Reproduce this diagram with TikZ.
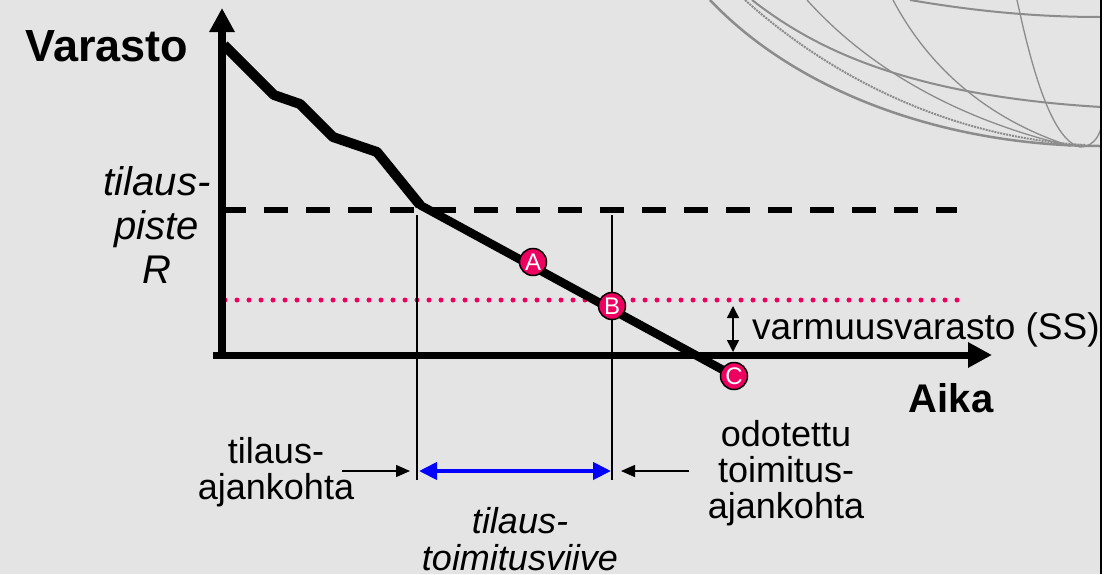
\documentclass[tikz,border=0pt]{standalone}
\usepackage{fontspec}
\setmainfont{Liberation Sans}
\usetikzlibrary{arrows.meta}
\definecolor{bg}{RGB}{228,228,228}
\definecolor{hot}{RGB}{238,0,96}
\definecolor{globec}{RGB}{140,140,140}
\begin{document}
\begin{tikzpicture}[x=1pt,y=-1pt,
  globeline/.style={draw=globec,line width=2pt},
  axisline/.style={line width=8pt,-{Triangle[length=24pt,width=24pt]}},
  curveline/.style={line width=10pt,line join=round},
  thinline/.style={line width=1.5pt},
  ptnode/.style={circle,fill=hot,draw=black,line width=1.5pt,minimum size=27pt,inner sep=0pt,text=white,font=\fontsize{24}{24}\selectfont},
  lbl/.style={inner sep=0pt,font=\fontsize{36}{36}\selectfont,align=center},
  ilbl/.style={inner sep=0pt,font=\fontsize{36}{37}\selectfont\itshape,align=center},
  smallarrow/.style={line width=1.5pt,-{Triangle[length=14pt,width=12pt]}},
  ssarrow/.style={line width=1.5pt,{Triangle[length=12pt,width=12pt]}-{Triangle[length=12pt,width=12pt]}},
  bluearrow/.style={draw=blue,line width=4pt,{Triangle[length=18pt,width=17pt]}-{Triangle[length=18pt,width=17pt]}}
]
\useasboundingbox (0,0) rectangle (1115,574);
\fill[bg] (0,0) rectangle (1101,574);
\fill[white] (1101,0) rectangle (1115,574);
% globe decoration
\draw[globeline,line width=2.5pt] (710,0) .. controls (800,95) and (950,146) .. (1101,146);
\draw[globeline,densely dotted] (745,0) .. controls (840,85) and (960,138) .. (1085,145);
\draw[globeline] (752,0) .. controls (810,45) and (900,95) .. (1101,107);
\draw[globeline,line width=1.3pt] (807,0) .. controls (870,70) and (960,120) .. (1070,146);
\draw[globeline,line width=1.3pt] (893,0) .. controls (930,70) and (990,120) .. (1070,146);
\draw[globeline,line width=1.3pt] (1017,0) .. controls (1030,60) and (1050,140) .. (1080,147) .. controls (1090,147) and (1098,140) .. (1101,128);
\draw[globeline] (910,0) .. controls (980,12) and (1040,17) .. (1101,17);
\draw[black,line width=2pt] (1101,0) -- (1101,574);

% coordinates
\coordinate (origin) at (222,359);
\coordinate (ytip) at (222,8);
\coordinate (xstart) at (213,355);
\coordinate (xtip) at (992,355);
\coordinate (s0) at (224,45);
\coordinate (s1) at (274,95);
\coordinate (s2) at (300,104);
\coordinate (s3) at (333,137);
\coordinate (s4) at (377,152);
\coordinate (kink) at (420,205);
\coordinate (rl) at (222,210);
\coordinate (rr) at (957,210);
\coordinate (ssl) at (225,300);
\coordinate (ssr) at (957,300);
\coordinate (v1t) at (417,215);
\coordinate (v1b) at (417,480);
\coordinate (v2t) at (612,215);
\coordinate (v2b) at (612,480);
\coordinate (b1) at (419,471);
\coordinate (b2) at (611,471);
\coordinate (la) at (342,471);
\coordinate (lb) at (410,471);
\coordinate (ra) at (689,471);
\coordinate (rb) at (621,471);
\coordinate (sst) at (733,306);
\coordinate (ssb) at (733,352);

% reorder point and safety stock lines
\draw[line width=6pt,dash pattern=on 24pt off 18pt] (rl) -- (rr);
\draw[hot,line width=5pt,line cap=round,dash pattern=on 0pt off 12pt] (ssl) -- (ssr);

% thin verticals
\draw[thinline] (v1t) -- (v1b);
\draw[thinline] (v2t) -- (v2b);

% axes
\draw[axisline] (origin) -- (ytip);
\draw[line width=7pt,-{Triangle[length=24pt,width=24pt]}] (xstart) -- (xtip);

% inventory curve
\coordinate (cpos) at (734,376);
\draw[curveline] (s0) -- (s1) -- (s2) -- (s3) -- (s4) -- (kink);
\draw[line width=8.5pt,line join=round,line cap=round] (kink) -- (cpos);
\node[ptnode] (A) at (533,262) {A};
\node[ptnode] (B) at (612,306) {B};
\node[ptnode] (C) at (cpos) {C};

% arrows
\draw[bluearrow] (b1) -- (b2);
\draw[smallarrow] (la) -- (lb);
\draw[smallarrow] (ra) -- (rb);
\draw[ssarrow] (sst) -- (ssb);

% labels
\node[inner sep=0pt,anchor=base,font=\fontsize{45}{45}\selectfont\bfseries] (varasto) at (107,61) {Varasto};
\node[inner sep=0pt,anchor=base,font=\fontsize{40}{40}\selectfont\bfseries] (aika) at (951,412) {Aika};
\node[inner sep=0pt,anchor=north,align=center,font=\fontsize{40}{44}\selectfont\itshape] (rlabel) at (157,166) {tilaus-\\piste\\R};
\node[inner sep=0pt,anchor=base west,font=\fontsize{37}{37}\selectfont] (sslabel) at (752,339) {varmuusvarasto (SS)};
\node[lbl,anchor=north] (tilaus) at (276,437) {tilaus-\\ajankohta};
\node[lbl,anchor=north] (odotettu) at (786,420) {odotettu\\toimitus-\\ajankohta};
\node[ilbl,anchor=north] (viive) at (520,507) {tilaus-\\toimitusviive};
\end{tikzpicture}
\end{document}
